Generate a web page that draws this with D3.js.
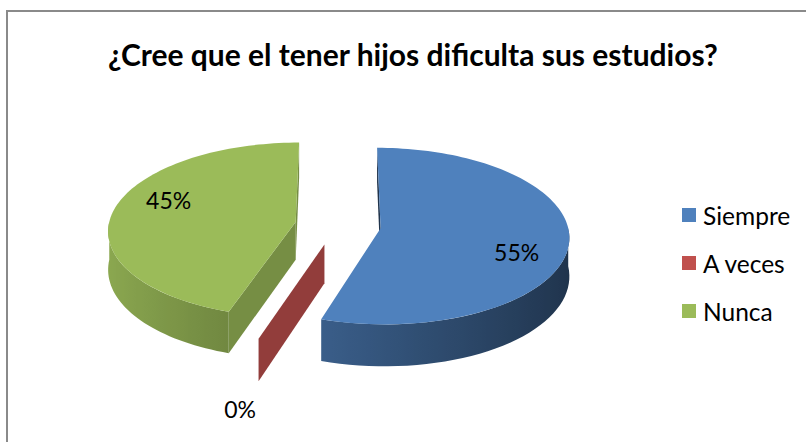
<!DOCTYPE html>
<html>
<head>
<meta charset="utf-8">
<script src="https://cdn.jsdelivr.net/npm/d3@7"></script>
<style>
  body { margin: 0; background: #fff; }
  text { font-family: Lato, 'Open Sans', sans-serif; }
</style>
</head>
<body>
<svg id="chart"></svg>
<script>
const title = '¿Cree que el tener hijos dificulta sus estudios?';
const categories = ['Siempre', 'A veces', 'Nunca'];
const values = [55, 0, 45];
const colors = ['#4F81BD', '#C0504D', '#9BBB59'];

const width = 806, height = 442;
const svg = d3.select('#chart').attr('width', width).attr('height', height);
const defs = svg.append('defs');

// chart frame
svg.append('rect')
    .attr('x', 7).attr('y', 11)
    .attr('width', width).attr('height', height)
    .attr('fill', '#fff')
    .attr('stroke', '#8a8a8a')
    .attr('stroke-width', 2);

// title
const titleText = svg.append('text')
    .attr('x', 413).attr('y', 66)
    .attr('text-anchor', 'middle')
    .attr('font-weight', 'bold')
    .attr('font-size', 30)
    .attr('fill', '#000')
    .text(title);
if (titleText.node().getComputedTextLength() > 613) {
    titleText.attr('textLength', 613).attr('lengthAdjust', 'spacingAndGlyphs');
}

// 3d pie geometry (unit radius disc, tilted, light perspective)
const cx = 338, cy = 225, rx = 187, ry = 87, depth = 38;
const persp = 0.09, explode = 0.23;
const xs = d3.scaleLinear().domain([-1, 1]).range([cx - rx, cx + rx]);
const zs = d3.scaleLinear().domain([-1, 1]).range([cy + ry, cy - ry]);

function project(X, Z, Y) {
    const k = 1 / (1 + persp * Z);
    return [cx + k * (xs(X) - cx), cy + k * (zs(Z) - cy + Y)];
}
function shade(c, f) {
    const r = d3.rgb(c);
    return d3.rgb(r.r * f, r.g * f, r.b * f).formatHex();
}

const pie = d3.pie().sort(null).value(d => d.value);
const arcs = pie(categories.map((c, i) => ({ name: c, value: values[i], color: colors[i] })));

arcs.forEach(d => {
    const m = (d.startAngle + d.endAngle) / 2;
    d.ox = explode * Math.sin(m);
    d.oz = explode * Math.cos(m);
    d.pt = (t, r, Y) => project(d.ox + r * Math.sin(t), d.oz + r * Math.cos(t), Y);
});

const line = d3.line();
const eyeZ = -1 / persp;
const g = svg.append('g');

// back slices first
const order = arcs.slice().sort((a, b) => b.oz - a.oz);

order.forEach((d, i) => {
    const a0 = d.startAngle, a1 = d.endAngle;
    const base = d.data.color;
    const empty = a1 - a0 < 1e-6;
    const sg = g.append('g');

    // outer wall (front half only)
    const s = Math.max(a0, Math.PI / 2), e = Math.min(a1, 3 * Math.PI / 2);
    if (e > s) {
        const ts = d3.range(41).map(j => s + (e - s) * j / 40);
        const top = ts.map(t => d.pt(t, 1, 0));
        const bot = ts.map(t => d.pt(t, 1, depth)).reverse();
        const xmin = d3.min(top, p => p[0]), xmax = d3.max(top, p => p[0]);
        const gid = 'side' + i;
        const grad = defs.append('linearGradient').attr('id', gid)
            .attr('gradientUnits', 'userSpaceOnUse')
            .attr('x1', xmin).attr('x2', xmax).attr('y1', 0).attr('y2', 0);
        ts.map((t, j) => ({ o: (top[j][0] - xmin) / (xmax - xmin), f: 0.65 - 0.25 * Math.sin(t) }))
            .sort((p, q) => p.o - q.o)
            .forEach(p => grad.append('stop').attr('offset', p.o).attr('stop-color', shade(base, p.f)));
        sg.append('path').attr('d', line(top.concat(bot)) + 'Z').attr('fill', `url(#${gid})`);
    }

    // radial cut faces (a zero slice is just one flat wall)
    const faces = empty ? [[a0, -1]] : [[a0, -1], [a1, 1]];
    faces.forEach(([a, dir]) => {
        const nx = dir * Math.cos(a), nz = -dir * Math.sin(a);
        const px = d.ox + 0.5 * Math.sin(a), pz = d.oz + 0.5 * Math.cos(a);
        const vis = nx * (0 - px) + nz * (eyeZ - pz);
        if (!empty && vis <= 0) return;
        const quad = [d.pt(a, 0, 0), d.pt(a, 1, 0), d.pt(a, 1, depth), d.pt(a, 0, depth)];
        sg.append('path').attr('d', line(quad) + 'Z')
            .attr('fill', shade(base, empty || nz < 0 ? 0.76 : 0.4));
    });

    // top face
    if (!empty) {
        const n = Math.max(8, Math.ceil((a1 - a0) / 0.03));
        const rim = d3.range(n + 1).map(j => d.pt(a0 + (a1 - a0) * j / n, 1, 0));
        sg.append('path').attr('d', line([d.pt(0, 0, 0)].concat(rim)) + 'Z').attr('fill', base);
    }
});

// data labels
const fmt = d3.format('.0%');
const total = d3.sum(values);
arcs.forEach(d => {
    const m = (d.startAngle + d.endAngle) / 2;
    const p = d.value > 0 ? d.pt(m + 0.2, 0.75, 0) : d.pt(m, 1.25, depth);
    svg.append('text')
        .attr('x', p[0]).attr('y', p[1])
        .attr('text-anchor', 'middle')
        .attr('dominant-baseline', 'central')
        .attr('font-size', 23)
        .attr('fill', '#000')
        .text(fmt(d.value / total));
});

// legend
const ly = d3.scalePoint().domain(categories).range([215, 311]);
const legend = svg.append('g');
categories.forEach((c, i) => {
    legend.append('rect')
        .attr('x', 682).attr('y', ly(c) - 7)
        .attr('width', 14).attr('height', 14)
        .attr('fill', colors[i]);
    legend.append('text')
        .attr('x', 703).attr('y', ly(c))
        .attr('dominant-baseline', 'central')
        .attr('font-size', 24.5)
        .attr('fill', '#000')
        .text(c);
});
</script>
</body>
</html>
